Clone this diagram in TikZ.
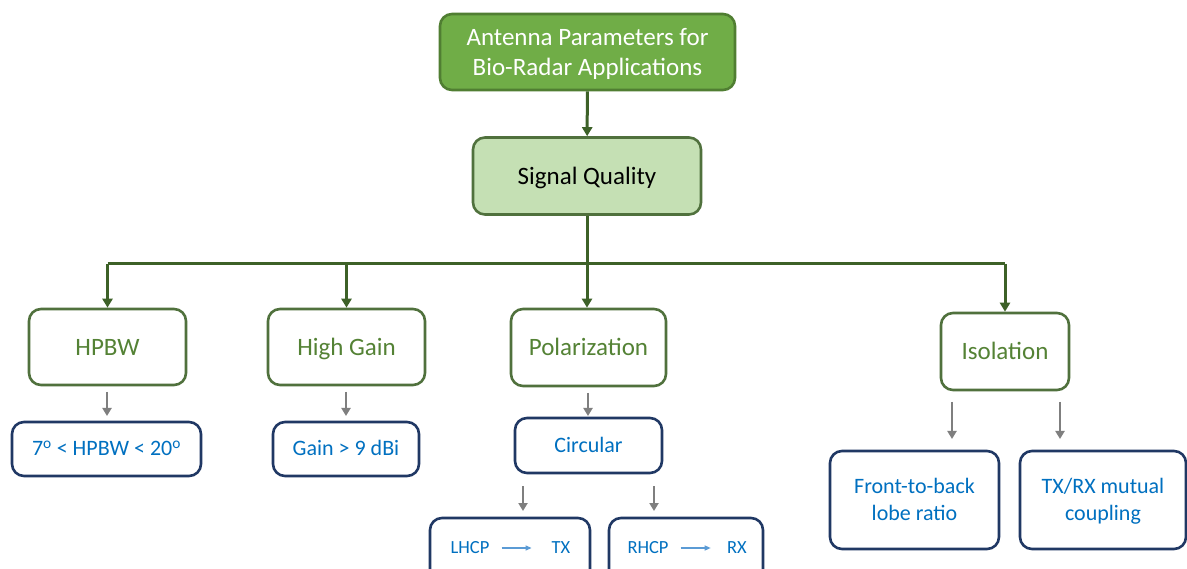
\documentclass[tikz,border=0pt]{standalone}
\usepackage{fontspec}
\setmainfont{Carlito}
\usetikzlibrary{arrows.meta}
\definecolor{topfill}{HTML}{70AD47}
\definecolor{topline}{HTML}{507E32}
\definecolor{sqfill}{HTML}{C5E0B4}
\definecolor{darkgreen}{HTML}{3D6128}
\definecolor{greentext}{HTML}{548235}
\definecolor{bluetext}{HTML}{0070C0}
\definecolor{blueline}{HTML}{203864}
\definecolor{arrowgray}{HTML}{7F7F7F}
\definecolor{lightblue}{HTML}{5B9BD5}
\tikzset{
  base/.style={rounded corners=12pt, line width=2.6pt, align=center, inner sep=0pt},
  % text boxes with fixed extents so that the lines sit centred like the caps
  bigtext/.style={font=\fontsize{25}{30}\selectfont, text height=21pt, text depth=4pt},
  bigtwo/.style={text height=51pt},
  midtext/.style={font=\fontsize{22}{27}\selectfont, text height=19pt, text depth=5pt},
  midtwo/.style={text height=46pt},
  topbox/.style={base, bigtext, draw=topline, fill=topfill, text=white},
  sqbox/.style={base, bigtext, draw=darkgreen!90, fill=sqfill, text=black},
  catbox/.style={base, bigtext, draw=darkgreen!90, fill=white, text=greentext},
  valbox/.style={base, midtext, draw=blueline, fill=white, text=bluetext},
  subbox/.style={base, draw=blueline, fill=white},
  subtext/.style={inner sep=0pt, text=bluetext, font=\fontsize{18.5}{22}\selectfont},
  garrow/.style={line width=3pt, draw=darkgreen, -{Triangle[length=9pt,width=10pt]}},
  gline/.style={line width=3pt, draw=darkgreen},
  grayarrow/.style={line width=2.6pt, draw=arrowgray, -{Triangle[length=8pt,width=9pt]}},
  bluearrow/.style={line width=1.2pt, draw=lightblue, -{Triangle[length=6pt,width=5pt]}},
}
\newcommand{\ordo}{\textsuperscript{o}}
\begin{document}
\begin{tikzpicture}[x=1pt,y=-1pt]
\clip (0,0) rectangle (1187,569);
\fill[white] (0,0) rectangle (1187,569);

% top level
\node[topbox, bigtwo, minimum width=295pt, minimum height=76pt] (top) at (587.5,52) {Antenna Parameters for\\Bio-Radar Applications};
\node[sqbox, minimum width=228pt, minimum height=77pt] (sq) at (587,176) {Signal Quality};

% categories
\node[catbox, minimum width=157pt, minimum height=76pt] (hpbw) at (107.5,347) {HPBW};
\node[catbox, minimum width=157pt, minimum height=76pt] (gain) at (346.5,347) {High Gain};
\node[catbox, minimum width=155pt, minimum height=77pt] (pol) at (588.5,347.5) {Polarization};
\node[catbox, minimum width=128pt, minimum height=77pt] (iso) at (1005,351.5) {Isolation};

% values
\node[valbox, minimum width=189pt, minimum height=54pt] (hpbwv) at (106.5,449) {7\ordo{} < HPBW < 20\ordo};
\node[valbox, minimum width=146pt, minimum height=54pt] (gainv) at (346,449) {Gain > 9 dBi};
\node[valbox, minimum width=147pt, minimum height=55pt] (circ) at (588.5,445.5) {Circular};
\node[valbox, midtwo, minimum width=169pt, minimum height=98pt] (ftb) at (914.5,500) {Front-to-back\\lobe ratio};
\node[valbox, midtwo, minimum width=166pt, minimum height=98pt] (txrx) at (1103,500) {TX/RX mutual\\coupling};

% circular sub-boxes
\node[subbox, minimum width=160pt, minimum height=70pt] (lhcp) at (510,553) {};
\node[subbox, minimum width=154pt, minimum height=70pt] (rhcp) at (686,553) {};
\node[subtext] (lhcpt) at (470,548) {LHCP};
\node[subtext] (tx) at (561,548) {TX};
\node[subtext] (rhcpt) at (648,548) {RHCP};
\node[subtext] (rx) at (737,548) {RX};
\draw[bluearrow] (lhcpt.east) ++(12pt,0) coordinate (la) -- ++(30pt,0) coordinate (lb);
\draw[bluearrow] (rhcpt.east) ++(12pt,0) coordinate (ra) -- ++(30pt,0) coordinate (rb);

% main connectors
\draw[garrow] (top) -- (sq);
\coordinate (bus) at (587,264);
\draw[gline] (sq.south) -- (bus);
\draw[gline] (hpbw.north |- bus) -- (iso.north |- bus);
\draw[garrow] (hpbw.north |- bus) -- (hpbw.north);
\draw[garrow] (gain.north |- bus) -- (gain.north);
\draw[garrow] (bus) -- (pol.north -| bus);
\draw[garrow] (iso.north |- bus) -- (iso.north);

% gray connectors
\coordinate (h1) at (107,392); \coordinate (h2) at (107,416);
\draw[grayarrow] (h1) -- (h2);
\coordinate (g1) at (346,392); \coordinate (g2) at (346,416);
\draw[grayarrow] (g1) -- (g2);
\coordinate (p1) at (588,393); \coordinate (p2) at (588,416);
\draw[grayarrow] (p1) -- (p2);
\coordinate (c1) at (523,486); \coordinate (c2) at (523,511);
\draw[grayarrow] (c1) -- (c2);
\coordinate (c3) at (654,486); \coordinate (c4) at (654,511);
\draw[grayarrow] (c3) -- (c4);
\coordinate (i1) at (952,402); \coordinate (i2) at (952,439);
\draw[grayarrow] (i1) -- (i2);
\coordinate (i3) at (1060,402); \coordinate (i4) at (1060,439);
\draw[grayarrow] (i3) -- (i4);
\end{tikzpicture}
\end{document}
